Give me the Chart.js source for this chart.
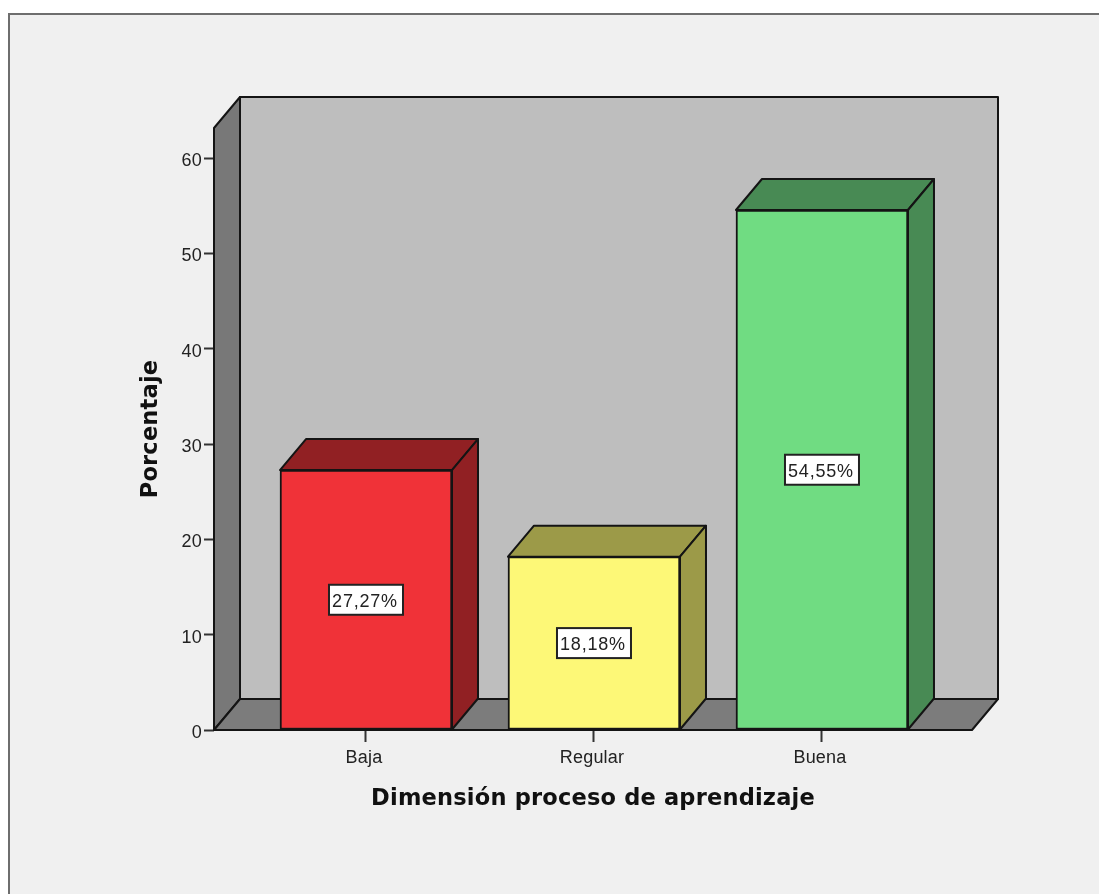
<!DOCTYPE html>
<html>
<head>
<meta charset="utf-8">
<style>
html,body{margin:0;padding:0;background:#fff}
#c{display:block}
</style>
<script src="https://cdn.jsdelivr.net/npm/chart.js@4"></script>
</head>
<body>
<canvas id="c" width="1099" height="894"></canvas>
<script>
const categories = ["Baja","Regular","Buena"]
const percent = [27.27,18.18,54.55]
const bar_labels = ["27,27%","18,18%","54,55%"]
const y_ticks = [0,10,20,30,40,50,60]
const front_colors = ["#f03238","#fdf877","#70dc82"]
const side_colors = ["#912023","#9c9a48","#488a54"]

const axis_font = "'Liberation Sans', Arial, sans-serif"
const title_font = "'DejaVu Sans', Verdana, sans-serif"
const line_color = "#141414"

// depth of the fake 3d box, spss style
const dx = 26
const dy = -31

function poly(ctx,pts,fill){
    ctx.beginPath()
    ctx.moveTo(pts[0][0],pts[0][1])
    for (let p of pts.slice(1)){ctx.lineTo(p[0],p[1])}
    ctx.closePath()
    ctx.fillStyle = fill
    ctx.fill()
    ctx.lineWidth = 2
    ctx.strokeStyle = line_color
    ctx.lineJoin = "round"
    ctx.stroke()
}

const box_plugin = {
    id:"box",
    beforeDraw(chart){
        const ctx = chart.ctx
        ctx.save()
        ctx.fillStyle = "#f0f0f0"
        ctx.fillRect(9,14,chart.width-9,chart.height-14)
        ctx.strokeStyle = "#6e6e6e"
        ctx.lineWidth = 2
        ctx.beginPath()
        ctx.moveTo(9,chart.height)
        ctx.lineTo(9,14)
        ctx.lineTo(chart.width,14)
        ctx.stroke()
        ctx.restore()
        // stays on for the axis text too
        ctx.letterSpacing = "0.2px"
    },
    beforeDatasetsDraw(chart){
        const ctx = chart.ctx
        const a = chart.chartArea
        ctx.save()
        // back wall, left wall, floor
        poly(ctx,[[a.left+dx,a.top+dy],[a.right+dx,a.top+dy],[a.right+dx,a.bottom+dy],[a.left+dx,a.bottom+dy]],"#bebebe")
        poly(ctx,[[a.left,a.top],[a.left+dx,a.top+dy],[a.left+dx,a.bottom+dy],[a.left,a.bottom]],"#787878")
        poly(ctx,[[a.left,a.bottom],[a.left+dx,a.bottom+dy],[a.right+dx,a.bottom+dy],[a.right,a.bottom]],"#7c7c7c")
        // top and side of every bar
        const meta = chart.getDatasetMeta(0)
        meta.data.forEach((bar,i)=>{
            const l = bar.x-bar.width/2
            const r = bar.x+bar.width/2
            poly(ctx,[[l,bar.y],[l+dx,bar.y+dy],[r+dx,bar.y+dy],[r,bar.y]],side_colors[i])
            poly(ctx,[[r,bar.y],[r+dx,bar.y+dy],[r+dx,bar.base+dy],[r,bar.base]],side_colors[i])
        })
        ctx.restore()
    },
    afterDatasetsDraw(chart){
        const ctx = chart.ctx
        const meta = chart.getDatasetMeta(0)
        ctx.save()
        ctx.font = "18px "+axis_font
        ctx.letterSpacing = "0.8px"
        ctx.textAlign = "center"
        ctx.textBaseline = "middle"
        meta.data.forEach((bar,i)=>{
            const cy = (bar.y+bar.base)/2
            const w = 74
            const h = 30
            ctx.fillStyle = "#fff"
            ctx.fillRect(bar.x-w/2,cy-h/2,w,h)
            ctx.strokeStyle = "#222"
            ctx.lineWidth = 2
            ctx.strokeRect(bar.x-w/2,cy-h/2,w,h)
            ctx.fillStyle = "#222"
            ctx.fillText(bar_labels[i],bar.x-1,cy+2)
        })
        ctx.restore()
    }
}

const canvas = document.getElementById("c")

const chart = new Chart(canvas.getContext("2d"),{
    type:"bar",
    plugins:[box_plugin],
    data:{
        datasets:[{
            data:percent.map((v,i)=>({x:i+1,y:v})),
            backgroundColor:front_colors,
            borderColor:line_color,
            borderWidth:2,
            borderSkipped:false,
            barThickness:172
        }]
    },
    options:{
        responsive:false,
        animation:false,
        layout:{padding:{left:138,top:128,right:127,bottom:81}},
        plugins:{legend:{display:false},tooltip:{enabled:false},title:{display:false}},
        scales:{
            x:{
                type:"linear",
                offset:false,
                min:1/3,
                max:3.658,
                afterBuildTicks(scale){scale.ticks = categories.map((c,i)=>({value:i+1}))},
                afterFit(scale){scale.height = 83},
                border:{display:false},
                grid:{offset:false,drawOnChartArea:false,tickLength:12,tickColor:"#333",tickWidth:2},
                ticks:{
                    callback:(v)=>categories[v-1],
                    autoSkip:false,
                    maxRotation:0,
                    color:"#222",
                    font:{family:axis_font,size:18},
                    padding:5,
                    labelOffset:-2
                },
                title:{
                    display:true,
                    text:"Dimensión proceso de aprendizaje",
                    color:"#111",
                    font:{family:title_font,size:22.5,weight:"bold"},
                    padding:{top:8,bottom:0}
                }
            },
            y:{
                min:0,
                max:63.15,
                afterBuildTicks(scale){scale.ticks = y_ticks.map(v=>({value:v}))},
                afterFit(scale){scale.width = 76},
                border:{display:false},
                grid:{drawOnChartArea:false,tickLength:10,tickColor:"#333",tickWidth:2},
                ticks:{
                    color:"#222",
                    font:{family:axis_font,size:18},
                    padding:2,
                    labelOffset:3
                },
                title:{
                    display:true,
                    text:"Porcentaje",
                    color:"#111",
                    font:{family:title_font,size:22.5,weight:"bold"},
                    padding:{top:0,bottom:0}
                }
            }
        }
    }
})
</script>
</body>
</html>
